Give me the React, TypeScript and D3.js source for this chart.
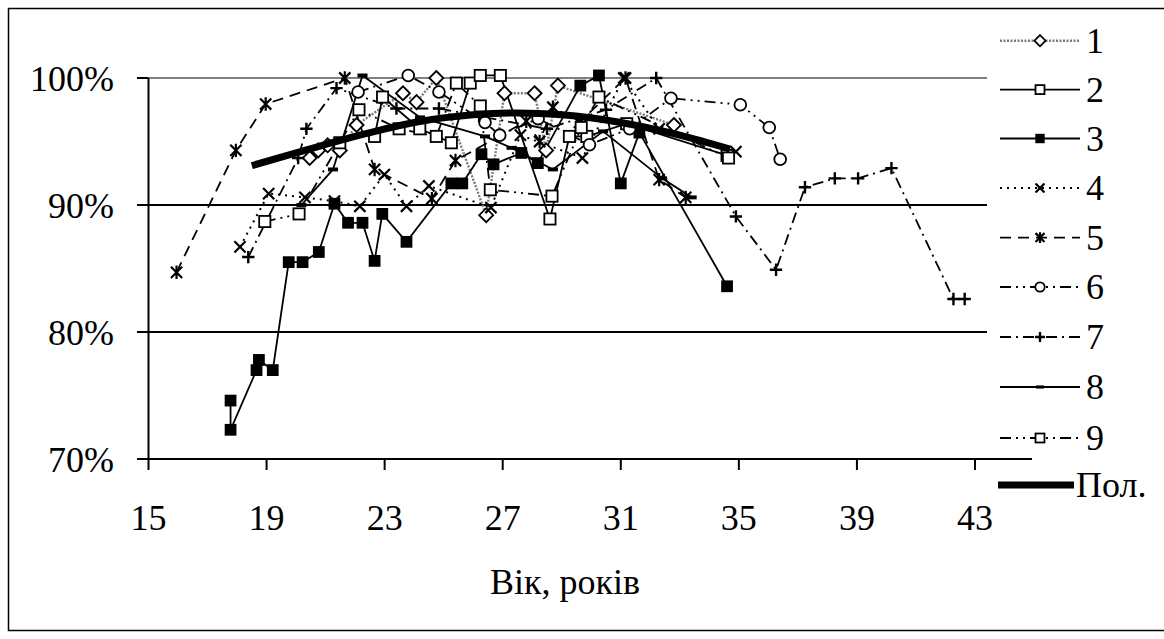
import * as d3 from 'd3';
import { useEffect, useRef } from 'react';

// age (years) / share (%)
const xTicks = [15, 19, 23, 27, 31, 35, 39, 43];
const yTicks = [70, 80, 90, 100];
const yTickLabels = ['70%', '80%', '90%', '100%'];
const legendNames = ['1', '2', '3', '4', '5', '6', '7', '8', '9', 'Пол.'];

const series1 = [
  [20.46, 93.7], [20.75, 94.3], [21.07, 94.7], [21.48, 94.3], [22.05, 96.3],
  [23.62, 98.8], [24.08, 98.1], [24.75, 100.0], [26.44, 89.2], [27.06, 98.8],
  [28.08, 98.8], [28.47, 94.3], [28.87, 99.4], [32.8, 96.3],
];
const series2 = [
  [22.66, 95.4], [22.93, 98.5], [24.19, 96.0], [25.26, 94.9], [25.9, 99.6],
  [26.24, 100.2], [26.92, 100.2], [28.6, 88.9], [29.26, 95.4], [29.85, 95.4],
  [31.2, 96.4], [34.6, 93.9],
];
const series3 = [
  [17.78, 74.6], [17.78, 72.3], [18.66, 77.0], [18.74, 77.8], [19.21, 77.0],
  [19.75, 85.5], [20.22, 85.5], [20.77, 86.3], [21.3, 90.1], [21.76, 88.6],
  [22.25, 88.6], [22.66, 85.6], [22.92, 89.3], [23.74, 87.1], [25.26, 91.7],
  [25.63, 91.7], [26.28, 94.0], [26.69, 93.2], [27.63, 94.1], [28.19, 93.3],
  [29.63, 99.4], [30.26, 100.2], [31.0, 91.7], [31.63, 95.7], [34.6, 83.6],
];
const series4 = [
  [18.1, 86.7], [19.07, 90.9], [20.3, 90.6], [21.3, 90.3], [22.16, 89.9],
  [22.99, 92.4], [23.74, 89.9], [24.5, 91.5], [26.6, 89.8], [27.6, 95.5],
  [29.7, 93.7], [31.1, 100.0], [32.3, 96.0], [34.9, 94.2],
];
const series5 = [
  [15.95, 84.7], [17.96, 94.3], [18.97, 97.95], [21.65, 100.0], [22.66, 92.8],
  [24.6, 90.5], [25.4, 93.5], [27.8, 96.6], [28.25, 95.0], [28.7, 97.7],
  [29.6, 96.5], [31.16, 100.0], [32.3, 92.0], [33.2, 90.6],
];
const series6 = [
  [22.1, 98.9], [23.8, 100.2], [24.84, 98.9], [26.4, 96.5], [26.9, 95.5],
  [28.2, 96.8], [29.94, 94.75], [31.3, 96.0], [32.7, 98.4], [35.05, 97.9],
  [36.03, 96.1], [36.4, 93.6],
];
const series7 = [
  [18.38, 85.9], [20.07, 93.7], [20.35, 96.0], [21.37, 99.2], [23.4, 97.6],
  [24.84, 97.6], [26.2, 97.0], [28.5, 96.0], [30.5, 97.5], [32.2, 100.0],
  [34.9, 89.1], [36.26, 84.9], [37.24, 91.4], [38.25, 92.1], [39.04, 92.1],
  [40.17, 92.9], [42.27, 82.6], [42.65, 82.6],
];
const series8 = [
  [20.18, 90.0], [21.25, 92.8], [22.25, 100.2], [24.2, 96.9], [26.4, 95.4],
  [27.3, 94.5], [28.7, 92.8], [30.4, 95.8], [32.4, 92.1], [33.4, 90.6],
];
const series9 = [
  [18.94, 88.7], [20.1, 89.3], [21.48, 94.9], [22.13, 97.5], [23.49, 96.0],
  [24.75, 95.4], [25.43, 99.6], [26.24, 97.8], [26.58, 91.2], [28.67, 90.7],
  [29.66, 96.1], [30.26, 98.5], [34.65, 93.7],
];
const trend = [
  [18.5, 93.1], [20, 94.1], [22, 95.4], [24, 96.5], [26, 97.1], [27.5, 97.25],
  [29, 97.1], [31, 96.5], [33, 95.5], [34.7, 94.4],
];

const allSeries = [series1, series2, series3, series4, series5, series6, series7, series8, series9];

const styles = [
  { dash: '2,1.5', width: 2.4, color: '#7a7a7a', marker: 'diamond' },
  { dash: '', width: 1.8, color: '#000', marker: 'square' },
  { dash: '', width: 1.8, color: '#000', marker: 'filled' },
  { dash: '2,5', width: 2, color: '#000', marker: 'x' },
  { dash: '11,7', width: 1.8, color: '#000', marker: 'star' },
  { dash: '11,5,2,5,2,5', width: 1.8, color: '#000', marker: 'circle' },
  { dash: '11,5,2,5', width: 1.8, color: '#000', marker: 'plus' },
  { dash: '', width: 1.8, color: '#000', marker: 'bar' },
  { dash: '11,5,2,5,2,5', width: 1.8, color: '#000', marker: 'square' },
];

const dims = { width: 1164, height: 639, left: 148.5, right: 975, top: 78, bottom: 459 };
const font = "'Liberation Serif', 'Times New Roman', Tinos, 'DejaVu Serif', serif";

function drawMarker(g: any, type: string, x: number, y: number, k: number) {
  const s = 5.6 * k;
  if (type === 'diamond') {
    g.append('path')
      .attr('d', `M${x},${y - s * 1.25}L${x + s * 1.25},${y}L${x},${y + s * 1.25}L${x - s * 1.25},${y}Z`)
      .attr('fill', '#fff').attr('stroke', '#000').attr('stroke-width', 1.8);
  } else if (type === 'square') {
    g.append('rect').attr('x', x - s).attr('y', y - s).attr('width', 2 * s).attr('height', 2 * s)
      .attr('fill', '#fff').attr('stroke', '#000').attr('stroke-width', 1.8);
  } else if (type === 'filled') {
    g.append('rect').attr('x', x - s * 1.05).attr('y', y - s * 1.05).attr('width', 2.1 * s).attr('height', 2.1 * s)
      .attr('fill', '#000');
  } else if (type === 'circle') {
    g.append('circle').attr('cx', x).attr('cy', y).attr('r', s * 1.05)
      .attr('fill', '#fff').attr('stroke', '#000').attr('stroke-width', 1.8);
  } else if (type === 'x' || type === 'star') {
    const p = d3.path();
    p.moveTo(x - s, y - s); p.lineTo(x + s, y + s);
    p.moveTo(x - s, y + s); p.lineTo(x + s, y - s);
    if (type === 'star') { p.moveTo(x, y - s * 1.2); p.lineTo(x, y + s * 1.2); }
    g.append('path').attr('d', p.toString()).attr('stroke', '#000').attr('stroke-width', 2.2).attr('fill', 'none');
  } else if (type === 'plus') {
    const p = d3.path();
    p.moveTo(x - s * 1.1, y); p.lineTo(x + s * 1.1, y);
    p.moveTo(x, y - s * 1.1); p.lineTo(x, y + s * 1.1);
    g.append('path').attr('d', p.toString()).attr('stroke', '#000').attr('stroke-width', 2.4).attr('fill', 'none');
  } else if (type === 'bar') {
    g.append('rect').attr('x', x - s * 0.9).attr('y', y - s * 0.35).attr('width', 1.8 * s).attr('height', 0.7 * s)
      .attr('fill', '#000');
  }
}

export default function App() {
  const svgRef = useRef(null);

  useEffect(() => {
    const svg = d3.select(svgRef.current);
    svg.selectAll('*').remove();

    const xScale = d3.scaleLinear().domain([15, 43]).range([dims.left, dims.right]);
    const yScale = d3.scaleLinear().domain([70, 100]).range([dims.bottom, dims.top]);

    // frame
    svg.append('rect')
      .attr('x', 8.5).attr('y', 8.5).attr('width', 1170).attr('height', 622)
      .attr('fill', '#fff').attr('stroke', '#000').attr('stroke-width', 1.5);

    // gridlines
    yTicks.slice(1).forEach((t) => {
      svg.append('line')
        .attr('x1', dims.left).attr('x2', 987)
        .attr('y1', yScale(t)).attr('y2', yScale(t))
        .attr('stroke', t === 100 ? '#808080' : '#000')
        .attr('stroke-width', 2);
    });

    // axes
    svg.append('line')
      .attr('x1', dims.left).attr('x2', dims.left)
      .attr('y1', dims.top).attr('y2', dims.bottom)
      .attr('stroke', '#000').attr('stroke-width', 2);
    svg.append('line')
      .attr('x1', 137).attr('x2', 1032)
      .attr('y1', dims.bottom).attr('y2', dims.bottom)
      .attr('stroke', '#000').attr('stroke-width', 2);

    yTicks.forEach((t, i) => {
      svg.append('line')
        .attr('x1', 137).attr('x2', dims.left)
        .attr('y1', yScale(t)).attr('y2', yScale(t))
        .attr('stroke', '#000').attr('stroke-width', 2);
      svg.append('text')
        .attr('x', 114).attr('y', yScale(t) + 13)
        .attr('text-anchor', 'end')
        .attr('font-family', font).attr('font-size', 36)
        .text(yTickLabels[i]);
    });

    xTicks.forEach((t) => {
      svg.append('line')
        .attr('x1', xScale(t)).attr('x2', xScale(t))
        .attr('y1', dims.bottom).attr('y2', dims.bottom + 11)
        .attr('stroke', '#000').attr('stroke-width', 2);
      svg.append('text')
        .attr('x', xScale(t)).attr('y', 530)
        .attr('text-anchor', 'middle')
        .attr('font-family', font).attr('font-size', 36)
        .text(String(t));
    });

    svg.append('text')
      .attr('x', 565).attr('y', 594)
      .attr('text-anchor', 'middle')
      .attr('font-family', font).attr('font-size', 36)
      .text('Вік, років');

    const line = d3.line<number[]>()
      .x((d) => xScale(d[0]))
      .y((d) => yScale(d[1]));

    const plot = svg.append('g');
    allSeries.forEach((data, i) => {
      const st = styles[i];
      plot.append('path')
        .datum(data)
        .attr('d', line as any)
        .attr('fill', 'none')
        .attr('stroke', st.color)
        .attr('stroke-width', st.width)
        .attr('stroke-dasharray', st.dash || null);
    });
    allSeries.forEach((data, i) => {
      data.forEach((d) => drawMarker(plot, styles[i].marker, xScale(d[0]), yScale(d[1]), 1));
    });

    // polynomial trend
    plot.append('path')
      .datum(trend)
      .attr('d', d3.line<number[]>().x((d) => xScale(d[0])).y((d) => yScale(d[1])).curve(d3.curveMonotoneX) as any)
      .attr('fill', 'none')
      .attr('stroke', '#000')
      .attr('stroke-width', 7);

    // legend
    const legend = svg.append('g');
    const legendY = [40.7, 89.6, 138.5, 188, 237.6, 287, 337, 387, 438, 485];
    legendNames.forEach((name, i) => {
      const y = legendY[i];
      if (i < 9) {
        const st = styles[i];
        legend.append('line')
          .attr('x1', 1000).attr('x2', 1080).attr('y1', y).attr('y2', y)
          .attr('stroke', st.color).attr('stroke-width', st.width)
          .attr('stroke-dasharray', st.dash || null);
        drawMarker(legend, st.marker, 1040, y, 0.8);
      } else {
        legend.append('line')
          .attr('x1', 998).attr('x2', 1074).attr('y1', y).attr('y2', y)
          .attr('stroke', '#000').attr('stroke-width', 7);
      }
      legend.append('text')
        .attr('x', i < 9 ? 1086 : 1076).attr('y', y + 12)
        .attr('font-family', font).attr('font-size', 36)
        .text(name);
    });
  }, []);

  return (
    <svg
      ref={svgRef}
      width={dims.width}
      height={dims.height}
      style={{ position: 'absolute', left: 0, top: 0, display: 'block' }}
    ></svg>
  );
}
